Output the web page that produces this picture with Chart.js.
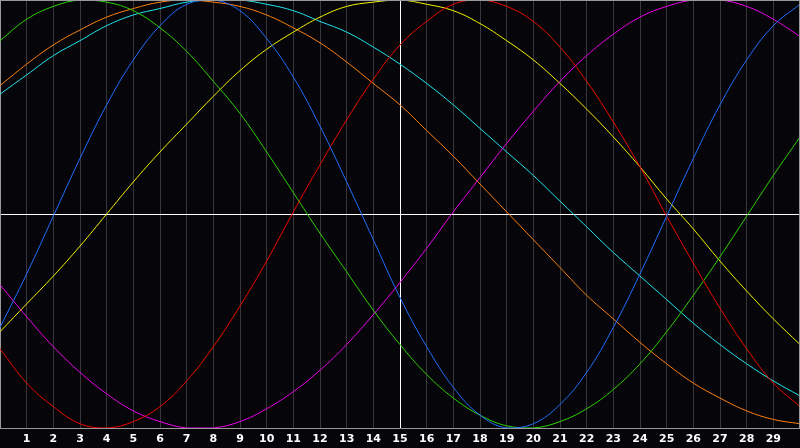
<!DOCTYPE html>
<html>
<head>
<meta charset="utf-8">
<script src="https://cdn.jsdelivr.net/npm/chart.js@4/dist/chart.umd.min.js"></script>
<style>
html,body{margin:0;padding:0;background:#060509;}
canvas{display:block;}
</style>
</head>
<body>
<canvas id="c" width="800" height="448"></canvas>
<script>
const days = [0,1,2,3,4,5,6,7,8,9,10,11,12,13,14,15,16,17,18,19,20,21,22,23,24,25,26,27,28,29,30];
const tickDays = [1,2,3,4,5,6,7,8,9,10,11,12,13,14,15,16,17,18,19,20,21,22,23,24,25,26,27,28,29];
const todayDay = 15;

const blue    = [-0.53,-0.28,-0.01,0.26,0.51,0.72,0.88,0.98,1.00,0.95,0.82,0.64,0.41,0.15,-0.12,-0.39,-0.62,-0.81,-0.94,-1.00,-0.98,-0.89,-0.74,-0.53,-0.28,-0.01,0.26,0.51,0.72,0.88,0.98];
const red     = [-0.63,-0.79,-0.90,-0.98,-1.00,-0.97,-0.90,-0.78,-0.62,-0.43,-0.22,0.01,0.23,0.44,0.63,0.79,0.90,0.98,1.00,0.97,0.90,0.78,0.62,0.43,0.22,-0.01,-0.23,-0.44,-0.63,-0.79,-0.90];
const green   = [0.81,0.91,0.97,1.00,0.99,0.95,0.87,0.76,0.62,0.47,0.29,0.10,-0.09,-0.27,-0.45,-0.61,-0.75,-0.86,-0.94,-0.99,-1.00,-0.97,-0.91,-0.82,-0.70,-0.55,-0.38,-0.20,-0.01,0.18,0.36];
const magenta = [-0.33,-0.48,-0.62,-0.74,-0.84,-0.92,-0.97,-1.00,-1.00,-0.97,-0.91,-0.83,-0.73,-0.61,-0.47,-0.32,-0.16,0.01,0.17,0.33,0.48,0.62,0.74,0.84,0.92,0.97,1.00,1.00,0.97,0.91,0.83];
const yellow  = [-0.55,-0.42,-0.29,-0.15,0.00,0.15,0.29,0.42,0.55,0.67,0.77,0.85,0.92,0.97,0.99,1.00,0.98,0.95,0.89,0.81,0.72,0.61,0.49,0.36,0.22,0.07,-0.07,-0.22,-0.36,-0.49,-0.61];
const orange  = [0.60,0.70,0.79,0.86,0.92,0.96,0.99,1.00,0.99,0.97,0.93,0.87,0.80,0.71,0.61,0.51,0.39,0.27,0.14,0.01,-0.12,-0.25,-0.38,-0.49,-0.60,-0.70,-0.79,-0.86,-0.92,-0.96,-0.98];
const cyan    = [0.56,0.65,0.74,0.81,0.88,0.93,0.96,0.99,1.00,1.00,0.98,0.95,0.90,0.85,0.78,0.70,0.61,0.51,0.40,0.29,0.18,0.06,-0.06,-0.18,-0.29,-0.40,-0.51,-0.61,-0.70,-0.78,-0.85];

const series = [
  {name:'blue', values: blue, color:'#1e6eff'},
  {name:'red', values: red, color:'#f00000'},
  {name:'green', values: green, color:'#2ad400'},
  {name:'magenta', values: magenta, color:'#f000f0'},
  {name:'yellow', values: yellow, color:'#f4f400'},
  {name:'orange', values: orange, color:'#ff8010'},
  {name:'cyan', values: cyan, color:'#22e4f0'}
];

const bgPlugin = {
  id:'bg',
  beforeDraw(chart){
    const c = chart.ctx;
    c.save();
    c.fillStyle = '#060509';
    c.fillRect(0,0,chart.width,chart.height);
    c.restore();
  },
  afterDraw(chart){
    const a = chart.chartArea, c = chart.ctx;
    c.save();
    c.strokeStyle = '#999999';
    c.lineWidth = 1;
    c.beginPath();
    c.moveTo(a.left, a.top + 0.5);
    c.lineTo(a.right, a.top + 0.5);
    c.moveTo(a.right - 0.5, a.top);
    c.lineTo(a.right - 0.5, a.bottom);
    c.stroke();
    c.restore();
  }
};

new Chart(document.getElementById('c'), {
  type: 'line',
  data: {
    datasets: series.map(s => ({
      label: s.name,
      data: days.map((d,i) => ({x:d, y:s.values[i]})),
      borderColor: s.color,
      borderWidth: 1,
      pointRadius: 0,
      fill: false,
      tension: 0.4
    }))
  },
  options: {
    responsive: false,
    animation: false,
    devicePixelRatio: 1,
    layout: {padding: 0},
    plugins: {legend:{display:false}, tooltip:{enabled:false}},
    scales: {
      x: {
        type: 'linear',
        min: 0, max: 30,
        afterFit(scale){ scale.height = 20; scale.paddingLeft = 0; scale.paddingRight = 0; },
        afterBuildTicks(scale){ scale.ticks = days.map(v => ({value:v})); },
        grid: {
          drawTicks: false,
          color: ctx => ctx.tick && ctx.tick.value === todayDay ? '#ffffff' : '#38383c',
          lineWidth: 1
        },
        border: {display: true, color: '#999999', width: 1},
        ticks: {
          autoSkip: false,
          maxRotation: 0,
          padding: 5,
          color: '#ffffff',
          font: {family: 'DejaVu Sans', size: 11, weight: 'bold'},
          callback: v => tickDays.includes(v) ? String(v) : ''
        }
      },
      y: {
        min: -1, max: 1,
        afterFit(scale){ scale.width = 0; scale.paddingTop = 0; scale.paddingBottom = 0; },
        afterBuildTicks(scale){ scale.ticks = [{value:-1},{value:0},{value:1}]; },
        grid: {
          drawTicks: false,
          color: ctx => ctx.tick && ctx.tick.value === 0 ? '#ffffff' : 'rgba(0,0,0,0)',
          lineWidth: 1
        },
        border: {display: true, color: '#999999', width: 1},
        ticks: {display: false}
      }
    }
  },
  plugins: [bgPlugin]
});
</script>
</body>
</html>
